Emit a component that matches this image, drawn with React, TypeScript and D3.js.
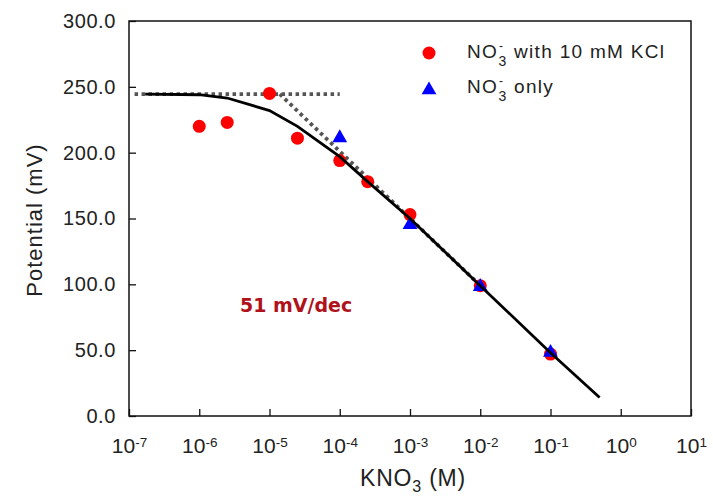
import React, { useEffect, useRef } from 'react';
import * as d3 from 'd3';

// red circles: NO3- with 10 mM KCl
const kclConc = [1e-6, 2.5e-6, 1e-5, 2.5e-5, 1e-4, 2.5e-4, 1e-3, 1e-2, 1e-1];
const kclPotential = [220, 223, 245, 211, 194, 178, 153, 99, 47];

// blue triangles: NO3- only
const onlyConc = [1e-4, 1e-3, 1e-2, 1e-1];
const onlyPotential = [212, 146, 99, 49];

// fitted curve (solid)
const fitConc = [1.7e-7, 1e-6, 2.5e-6, 1e-5, 2.5e-5, 1e-4, 2.5e-4, 1e-3, 1e-2, 1e-1, 0.5];
const fitPotential = [244.5, 244, 241.5, 232, 220, 197, 178, 150, 99, 48, 14];

// asymptotes (dotted)
const flatConc = [1.2e-7, 1e-4];
const flatPotential = [244.5, 244.5];
const slopeConc = [1.4e-5, 1.2e-2];
const slopePotential = [244.5, 95];

const yTicks = [0, 50, 100, 150, 200, 250, 300];
const xExponents = [-7, -6, -5, -4, -3, -2, -1, 0, 1];

const W = 713, H = 497;
const m = { left: 129, right: 691, top: 21, bottom: 416 };
const font = 'Liberation Sans, Arial, sans-serif';

export default function App() {
  const axRef = useRef<SVGGElement>(null);

  const x = d3.scaleLog().domain([1e-7, 1e1]).range([m.left, m.right]);
  const y = d3.scaleLinear().domain([0, 300]).range([m.bottom, m.top]);

  useEffect(() => {
    const g = d3.select(axRef.current);
    g.selectAll('*').remove();
    const yAxis = d3.axisLeft(y).tickValues(yTicks).tickSize(-7).tickPadding(13).tickFormat(d3.format('.1f'));
    const yg = g.append('g').attr('transform', `translate(${m.left},0)`).call(yAxis);
    yg.select('.domain').remove();
    yg.selectAll('text').attr('font-size', 20).attr('letter-spacing', 0.6).attr('font-family', font).attr('fill', '#222');
    yg.selectAll('line').attr('stroke', '#111').attr('stroke-width', 1.3);

    const xAxis = d3.axisBottom(x).tickValues(xExponents.map(e => Math.pow(10, e))).tickSize(-7).tickPadding(16).tickFormat(() => '');
    const xg = g.append('g').attr('transform', `translate(0,${m.bottom})`).call(xAxis);
    xg.select('.domain').remove();
    xg.selectAll('line').attr('stroke', '#111').attr('stroke-width', 1.3);
    xg.selectAll<SVGTextElement, number>('text').each(function (d) {
      const t = d3.select(this);
      const e = Math.round(Math.log10(d));
      t.attr('font-size', 21).attr('font-family', font).attr('fill', '#222').attr('dy', '0.98em');
      t.append('tspan').text('10');
      t.append('tspan').attr('dy', '-0.45em').attr('font-size', 13.5).text(String(e));
    });
  }, []);

  const line = d3.line<[number, number]>().x(d => x(d[0])).y(d => y(d[1]));
  const fitPts = fitConc.map((c, i) => [c, fitPotential[i]] as [number, number]);
  const flatPts = flatConc.map((c, i) => [c, flatPotential[i]] as [number, number]);
  const slopePts = slopeConc.map((c, i) => [c, slopePotential[i]] as [number, number]);
  const tri = d3.symbol().type(d3.symbolTriangle).size(95);

  return (
    <svg width={W} height={H} style={{ position: 'absolute', left: 0, top: 0, background: '#fff' }}>
      <rect x={m.left} y={m.top} width={m.right - m.left} height={m.bottom - m.top} fill="none" stroke="#111" strokeWidth={1.5} />
      <g ref={axRef} />
      <path d={line(flatPts) || ''} fill="none" stroke="#555" strokeWidth={3.8} strokeDasharray="3.5,3.5" />
      <path d={line(slopePts) || ''} fill="none" stroke="#555" strokeWidth={3.8} strokeDasharray="3.5,3.5" />
      {kclConc.map((c, i) => (
        <circle key={'c' + i} cx={x(c)} cy={y(kclPotential[i])} r={6.5} fill="#ff0000" />
      ))}
      {onlyConc.map((c, i) => (
        <path key={'t' + i} d={tri() || ''} transform={`translate(${x(c)},${y(onlyPotential[i]) + 1})`} fill="#0000ff" />
      ))}
      <path d={line(fitPts) || ''} fill="none" stroke="#000" strokeWidth={2.8} />

      <circle cx={429} cy={53} r={6.5} fill="#ff0000" />
      <text x={467} y={58} fontSize={19} letterSpacing={1.3} fontFamily={font} fill="#222">
        NO<tspan dx={1} dy={-8} fontSize={12}>-</tspan><tspan dx={-6} dy={16} fontSize={14}>3</tspan><tspan dy={-8}> with 10 mM KCl</tspan>
      </text>
      <path d={tri() || ''} transform="translate(429,90)" fill="#0000ff" />
      <text x={467} y={93} fontSize={19} letterSpacing={1.3} fontFamily={font} fill="#222">
        NO<tspan dx={1} dy={-8} fontSize={12}>-</tspan><tspan dx={-6} dy={16} fontSize={14}>3</tspan><tspan dy={-8}> only</tspan>
      </text>

      <text x={240} y={312} fontSize={19} fontWeight="bold" fontFamily="DejaVu Sans, sans-serif" fill="#b0121c">51 mV/dec</text>

      <text transform="translate(42,220) rotate(-90)" textAnchor="middle" fontSize={22} letterSpacing={1} fontFamily={font} fill="#222">Potential (mV)</text>
      <text x={413} y={486} textAnchor="middle" fontSize={23} letterSpacing={0.8} fontFamily={font} fill="#222">
        KNO<tspan dy={6} fontSize={16}>3</tspan><tspan dy={-6}> (M)</tspan>
      </text>
    </svg>
  );
}
